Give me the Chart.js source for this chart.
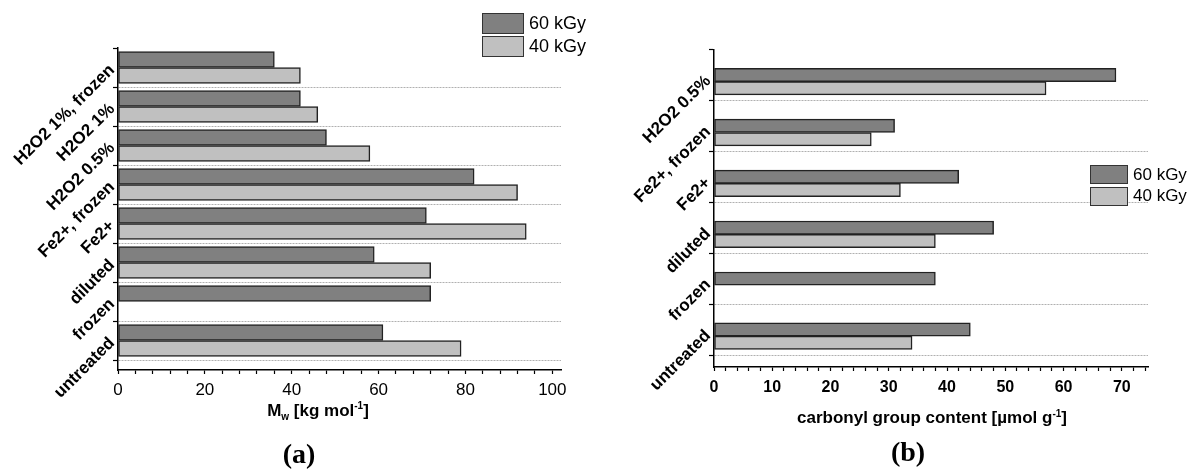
<!DOCTYPE html>
<html>
<head>
<meta charset="utf-8">
<script src="https://cdn.jsdelivr.net/npm/chart.js@4.4.1/dist/chart.umd.min.js"></script>
<style>
  body { margin: 0; background: #fff; font-family: "Liberation Sans", Arial, sans-serif; }
  #wrap { position: relative; width: 1189px; height: 471px; overflow: hidden; }
  canvas { position: absolute; top: 0; }
  .legend { position: absolute; color: #000; }
  .legend .row { display: flex; align-items: center; }
  .legend .box { box-sizing: border-box; border: 1px solid #333; margin-right: 5px; }
  .axtitle { position: absolute; font-weight: bold; font-size: 17px; white-space: nowrap; transform: translate(-50%, -50%); }
  .axtitle sub, .axtitle sup { font-size: 10px; }
  .panel { position: absolute; font-family: "Liberation Serif", serif; font-weight: bold; font-size: 28px; transform: translate(-50%, -50%); }
</style>
</head>
<body>
<div id="wrap">
  <canvas id="chartA" width="600" height="410" style="left:0px"></canvas>
  <canvas id="chartB" width="589" height="410" style="left:600px"></canvas>
  <div id="legendA" class="legend" style="left:482px; top:12px; font-size:18px"></div>
  <div id="legendB" class="legend" style="left:1090px; top:164px; font-size:17px"></div>
  <div class="axtitle" style="left:318px; top:411px">M<sub>w</sub> [kg mol<sup>-1</sup>]</div>
  <div class="axtitle" style="left:932px; top:418px">carbonyl group content [µmol g<sup>-1</sup>]</div>
  <div class="panel" style="left:299px; top:454px">(a)</div>
  <div class="panel" style="left:908px; top:452px">(b)</div>
</div>
<script>
// series names and colours
const seriesNames = ['60 kGy', '40 kGy'];
const seriesColors = ['#808080', '#c0c0c0'];

// (a) molecular weight
const labelsA = ['H2O2 1%, frozen', 'H2O2 1%', 'H2O2 0.5%', 'Fe2+, frozen', 'Fe2+', 'diluted', 'frozen', 'untreated'];
const mw60 = [36, 42, 48, 82, 71, 59, 72, 61];
const mw40 = [42, 46, 58, 92, 94, 72, null, 79];

// (b) carbonyl group content
const labelsB = ['H2O2 0.5%', 'Fe2+, frozen', 'Fe2+', 'diluted', 'frozen', 'untreated'];
const co60 = [69, 31, 42, 48, 38, 44];
const co40 = [57, 27, 32, 38, null, 34];

Chart.defaults.font.family = '"Liberation Sans", Arial, sans-serif';
Chart.defaults.color = '#000';

function makeChart(id, o) {
  const n = o.labels.length;
  const points = vals => vals
    .map((v, i) => ({ x: v, y: i + 0.5 + o.barShift }))
    .filter(p => p.x !== null);

  const datasets = o.series.map((vals, k) => ({
    label: seriesNames[k],
    data: points(vals),
    backgroundColor: seriesColors[k],
    borderColor: '#222',
    borderWidth: 1.5,
    borderSkipped: false,
    barThickness: o.barThickness
  }));

  return new Chart(document.getElementById(id), {
    type: 'bar',
    data: { datasets: datasets },
    options: {
      indexAxis: 'y',
      responsive: false,
      animation: false,
      devicePixelRatio: 1,
      layout: { padding: o.padding },
      plugins: { legend: { display: false }, tooltip: { enabled: false } },
      scales: {
        x: {
          type: 'linear',
          min: 0,
          max: o.xMax,
          offset: false,
          ticks: {
            stepSize: o.minorStep,
            includeBounds: false,
            autoSkip: false,
            maxRotation: 0,
            padding: o.xPad,
            font: o.xFont,
            callback: v => (v % o.majorStep === 0 ? v : '')
          },
          grid: { offset: false, drawOnChartArea: false, tickLength: 4, tickColor: '#000', tickWidth: 1.2 },
          border: { color: '#000', width: 1.5 },
          afterFit: s => { s.height = o.xHeight; }
        },
        y: {
          type: 'linear',
          reverse: true,
          offset: false,
          min: 0,
          max: n + o.yExtra,
          ticks: {
            stepSize: 1,
            autoSkip: false,
            minRotation: 45,
            maxRotation: 45,
            padding: 1,
            font: { size: 17, weight: 'bold' },
            callback: (v, idx) => (idx % 2 === 1 ? o.labels[(idx - 1) / 2] : '')
          },
          afterBuildTicks: s => {
            const t = [];
            for (let i = 0; i <= n; i++) {
              t.push({ value: i });
              if (i < n) t.push({ value: i + 0.5 + o.labelShift });
            }
            s.ticks = t;
          },
          grid: {
            offset: false,
            tickLength: 5,
            tickWidth: 1.2,
            lineWidth: 1,
            color: c => (c.index % 2 === 0 && c.index > 0 ? '#b0b0b0' : 'rgba(0,0,0,0)'),
            tickColor: c => (c.index % 2 === 0 ? '#000' : 'rgba(0,0,0,0)')
          },
          border: { color: '#000', width: 1.5, dash: [2, 1] },
          afterFit: s => { s.width = o.yWidth; }
        }
      }
    }
  });
}

function buildLegend(id, boxW, boxH, rowH) {
  const el = document.getElementById(id);
  seriesNames.forEach((name, k) => {
    const row = document.createElement('div');
    row.className = 'row';
    row.style.height = rowH + 'px';
    const box = document.createElement('span');
    box.className = 'box';
    box.style.width = boxW + 'px';
    box.style.height = boxH + 'px';
    box.style.background = seriesColors[k];
    row.appendChild(box);
    row.appendChild(document.createTextNode(name));
    el.appendChild(row);
  });
}

makeChart('chartA', {
  labels: labelsA,
  series: [mw60, mw40],
  xMax: 102,
  minorStep: 4,
  majorStep: 20,
  xFont: { size: 17 },
  xPad: 6,
  barThickness: 16,
  barShift: 0,
  labelShift: 0,
  yExtra: 10 / 39,
  yWidth: 118,
  xHeight: 40,
  padding: { left: 0, top: 48, right: 39, bottom: 0 }
});

makeChart('chartB', {
  labels: labelsB,
  series: [co60, co40],
  xMax: 74.5,
  minorStep: 2,
  majorStep: 10,
  xFont: { size: 16, weight: 'bold' },
  xPad: 7,
  barThickness: 13.3,
  barShift: 0.13,
  labelShift: 0.07,
  yExtra: 12 / 51,
  yWidth: 114,
  xHeight: 43,
  padding: { left: 0, top: 49.5, right: 41, bottom: 0 }
});

buildLegend('legendA', 42, 21, 23);
buildLegend('legendB', 38, 19, 21.5);
</script>
</body>
</html>
